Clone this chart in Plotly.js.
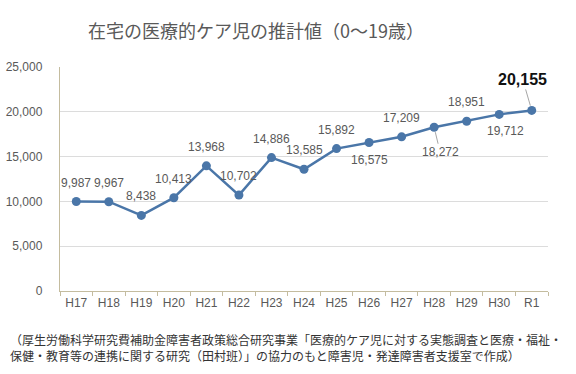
<!DOCTYPE html>
<html>
<head>
<meta charset="utf-8">
<script src="https://cdn.plot.ly/plotly-3.0.1.min.js"></script>
<style>html,body{margin:0;padding:0;background:#fff;}#chart{width:576px;height:374px;}</style>
</head>
<body>
<div id="chart"></div>
<script>
var years = ["H17","H18","H19","H20","H21","H22","H23","H24","H25","H26","H27","H28","H29","H30","R1"];
var children = [9987, 9967, 8438, 10413, 13968, 10702, 14886, 13585, 15892, 16575, 17209, 18272, 18951, 19712, 20155];
var yTicks = [0, 5000, 10000, 15000, 20000, 25000];
var titleText = "在宅の医療的ケア児の推計値（0～19歳）";
var noteText = "（厚生労働科学研究費補助金障害者政策総合研究事業「医療的ケア児に対する実態調査と医療・福祉・<br>保健・教育等の連携に関する研究（田村班）」の協力のもと障害児・発達障害者支援室で作成）";

// label placement style: [xshift, yshift, leader ax, leader ay]
var labelStyle = {
  "H26": {yshift: 18},
  "H30": {xshift: 6, yshift: 17},
  "H28": {leader: [6, 25]},
  "R1": {leader: [-9, -31], bold: true}
};

var gray = "#595959";
var annotations = [];
years.forEach(function (yr, i) {
  var s = labelStyle[yr] || {};
  var txt = children[i].toLocaleString("en-US");
  if (s.leader) {
    annotations.push({
      x: yr, y: children[i], xref: "x", yref: "y",
      text: s.bold ? "<b>" + txt + "</b>" : txt,
      showarrow: true, arrowhead: 0, arrowwidth: 1, arrowcolor: "#a6a6a6",
      ax: s.leader[0], ay: s.leader[1], standoff: 5,
      font: s.bold ? {family: "Liberation Sans, Arial, sans-serif", size: 16, color: "#111"} :
                     {family: "Liberation Sans, Arial, sans-serif", size: 12, color: gray}
    });
  } else {
    annotations.push({
      x: yr, y: children[i], xref: "x", yref: "y",
      text: txt, showarrow: false,
      xshift: s.xshift || 0, yshift: (s.yshift !== undefined ? s.yshift : -19) * -1,
      font: {family: "Liberation Sans, Arial, sans-serif", size: 12, color: gray}
    });
  }
});

annotations.push({
  xref: "paper", yref: "paper", x: -0.1066, y: -0.254,
  xanchor: "left", yanchor: "middle", align: "left",
  text: noteText, showarrow: false,
  font: {family: "Noto Sans CJK JP, sans-serif", size: 12, color: "#333"}
});

var trace = {
  x: years, y: children, type: "scatter", mode: "lines+markers",
  line: {color: "#4a76a8", width: 2.5},
  marker: {color: "#4a76a8", size: 9},
  hoverinfo: "x+y"
};

var layout = {
  width: 576, height: 374,
  margin: {l: 60, r: 28, t: 67, b: 83},
  paper_bgcolor: "#fff", plot_bgcolor: "#fff",
  showlegend: false,
  title: {
    text: titleText, x: 256 / 576, xanchor: "center", xref: "container",
    y: 1 - 32 / 374, yanchor: "middle", yref: "container",
    font: {family: "Noto Sans CJK JP, sans-serif", size: 18, color: gray}
  },
  xaxis: {
    type: "category", range: [-0.5, 14.5],
    showline: true, linecolor: "#c4bc9f", linewidth: 1.2,
    ticks: "outside", tickson: "boundaries", ticklen: 4, tickcolor: "#c4bc9f",
    showgrid: false, zeroline: false,
    tickfont: {family: "Liberation Sans, Arial, sans-serif", size: 12, color: gray}
  },
  yaxis: {
    range: [0, 25000], tickvals: yTicks, tickformat: ",d",
    showline: true, linecolor: "#c4bc9f", linewidth: 1.2,
    showgrid: true, gridcolor: "#dcdcdc", gridwidth: 1,
    zeroline: false, ticks: "", ticklabelstandoff: 14,
    tickfont: {family: "Liberation Sans, Arial, sans-serif", size: 12, color: gray}
  },
  annotations: annotations
};

Plotly.newPlot("chart", [trace], layout, {displayModeBar: false, staticPlot: true});
</script>
</body>
</html>
